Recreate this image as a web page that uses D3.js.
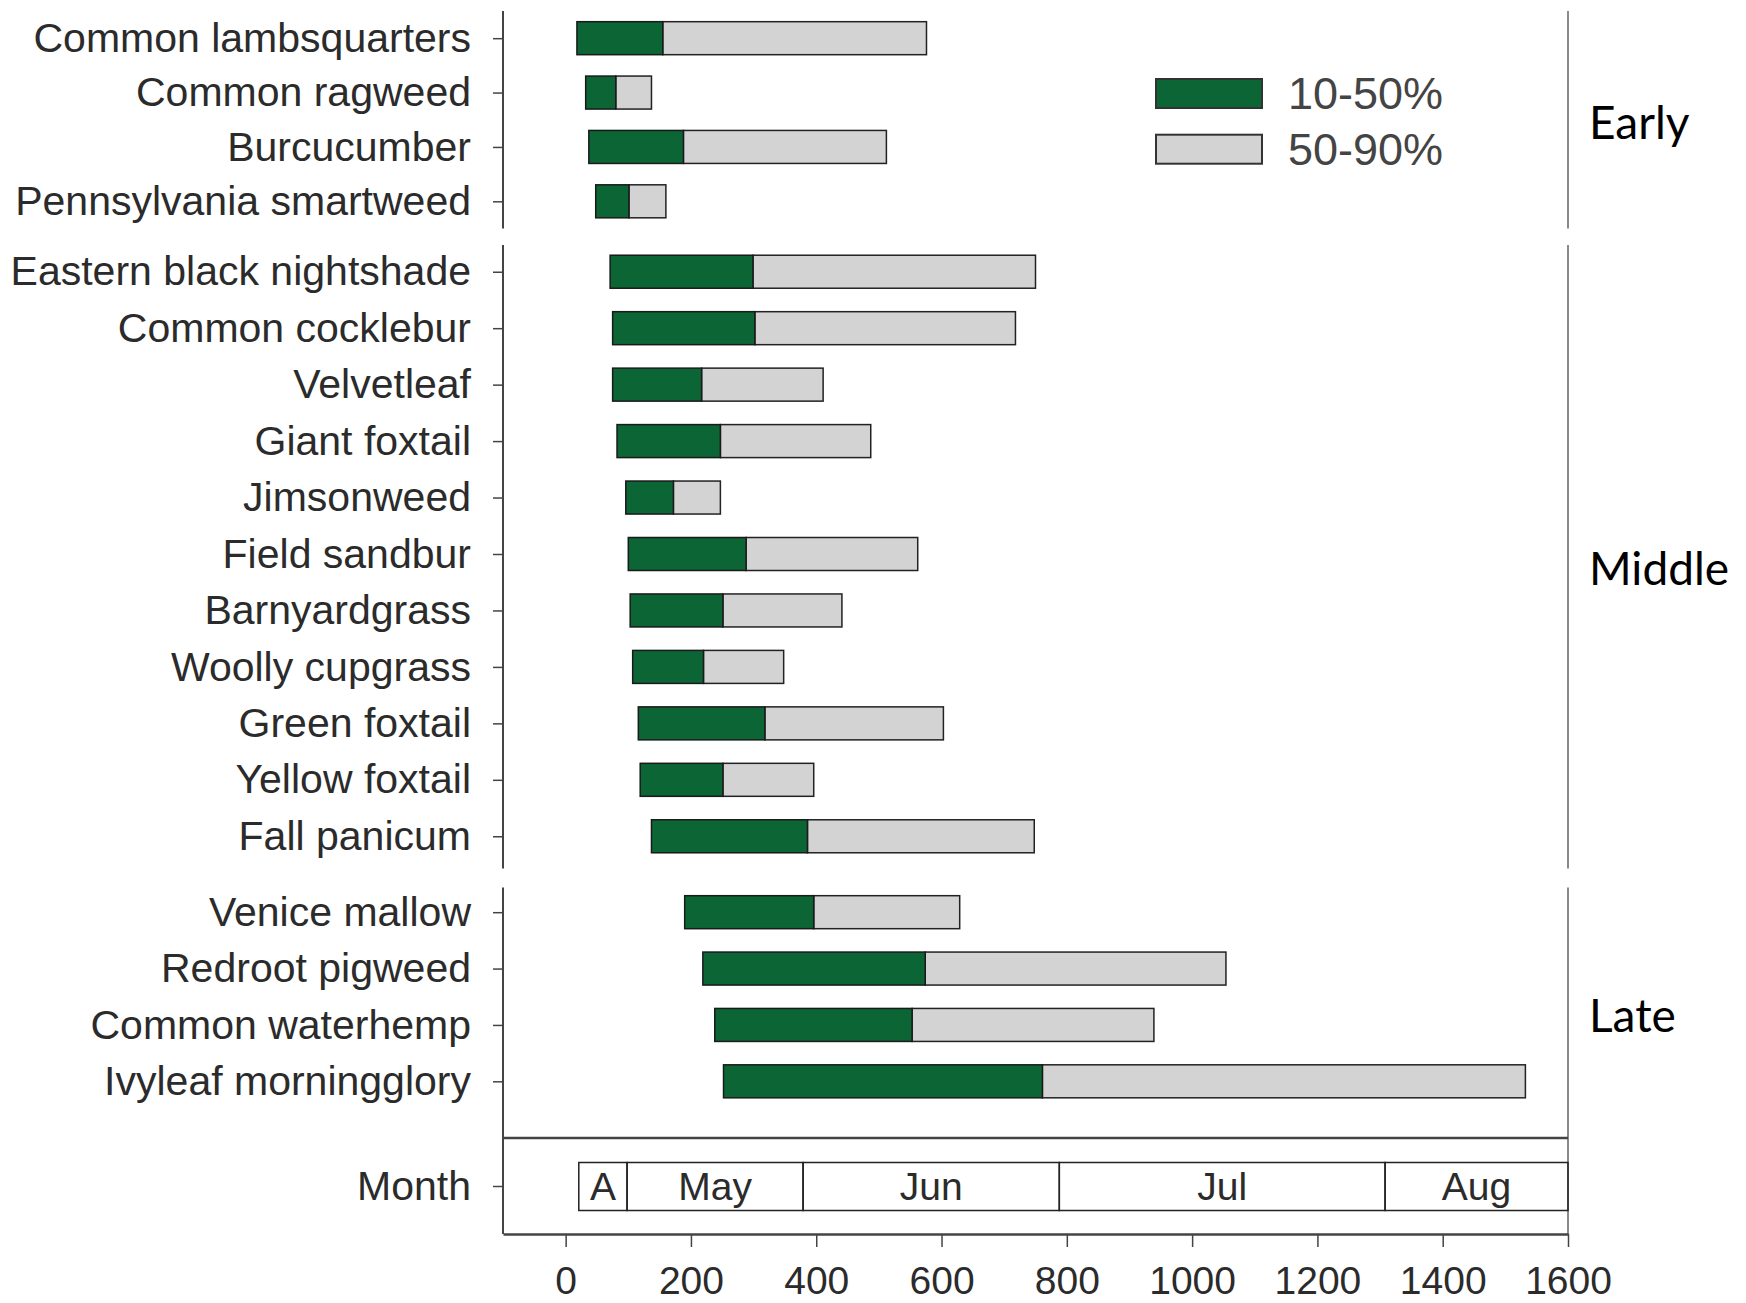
<!DOCTYPE html>
<html>
<head>
<meta charset="utf-8">
<script src="https://cdn.jsdelivr.net/npm/d3@7/dist/d3.min.js"></script>
<style>
  body { margin: 0; background: #fff; }
</style>
</head>
<body>
<svg id="chart"></svg>
<script>
// weeds, top to bottom, with their emergence group
const weeds = [
  "Common lambsquarters", "Common ragweed", "Burcucumber", "Pennsylvania smartweed",
  "Eastern black nightshade", "Common cocklebur", "Velvetleaf", "Giant foxtail",
  "Jimsonweed", "Field sandbur", "Barnyardgrass", "Woolly cupgrass",
  "Green foxtail", "Yellow foxtail", "Fall panicum",
  "Venice mallow", "Redroot pigweed", "Common waterhemp", "Ivyleaf morningglory"
];
const groupOf = [
  "Early", "Early", "Early", "Early",
  "Middle", "Middle", "Middle", "Middle", "Middle", "Middle", "Middle", "Middle", "Middle", "Middle", "Middle",
  "Late", "Late", "Late", "Late"
];
const groups = ["Early", "Middle", "Late"];

// growing degree days: 10% emergence, 50% emergence, 90% emergence
const gdd10 = [18, 32, 37, 48, 71, 75, 75, 82, 96, 100, 103, 107, 116, 119, 137, 190, 219, 238, 252];
const gdd50 = [155, 80, 188, 101, 299, 302, 217, 247, 172, 288, 251, 220, 318, 251, 386, 396, 574, 553, 761];
const gdd90 = [576, 137, 512, 160, 750, 718, 411, 487, 247, 562, 441, 348, 603, 396, 748, 629, 1054, 939, 1532];

// month strip
const months = ["A", "May", "Jun", "Jul", "Aug"];
const monthStart = [21, 98, 379, 788, 1308];
const monthEnd = 1600;

const xTicks = [0, 200, 400, 600, 800, 1000, 1200, 1400, 1600];
const legendLabels = ["10-50%", "50-90%"];

const W = 1746, H = 1303;
const green = "#0b6535", grey = "#d3d3d3", ink = "#2b2b2b";
const labelFont = "'Liberation Sans', Arial, sans-serif";

const svg = d3.select("#chart").attr("width", W).attr("height", H)
  .style("font-family", labelFont);

const x = d3.scaleLinear().domain([-100, 1600]).range([503, 1568]);
const x0 = x(-100), x1 = x(1600);

// panel layout: range for the point scale, and extent of the frame lines
const panelRange = { Early: [11, 228.5], Middle: [243.5, 864.5], Late: [884, 1109.5] };
const panelLine = { Early: [11, 228.5], Middle: [245, 868.5], Late: [887.5, 1234] };
const groupLabelY = { Early: 121, Middle: 567, Late: 1014 };
const barH = 33;

groups.forEach(g => {
  const names = weeds.filter((w, i) => groupOf[i] === g);
  const y = d3.scalePoint().domain(names).range(panelRange[g]).padding(0.5);

  const ax = svg.append("g")
    .attr("transform", `translate(${x0},0)`)
    .call(d3.axisLeft(y).tickSize(10).tickSizeOuter(0).tickPadding(22));
  ax.select(".domain").remove();
  ax.selectAll(".tick line").attr("stroke", "#444").attr("stroke-width", 1.5);
  ax.selectAll(".tick text").attr("fill", ink).style("font-size", "41px")
    .style("font-family", labelFont);

  // left and right frame lines
  svg.append("line").attr("x1", x0).attr("x2", x0)
    .attr("y1", panelLine[g][0]).attr("y2", panelLine[g][1])
    .attr("stroke", "#444").attr("stroke-width", 2);
  svg.append("line").attr("x1", x1).attr("x2", x1)
    .attr("y1", panelLine[g][0]).attr("y2", panelLine[g][1])
    .attr("stroke", "#8a8a8a").attr("stroke-width", 2);

  const rows = weeds.map((w, i) => ({ w, a: gdd10[i], b: gdd50[i], c: gdd90[i], g: groupOf[i] }))
    .filter(d => d.g === g);

  const bars = svg.append("g");
  bars.selectAll("rect.late").data(rows).join("rect")
    .attr("x", d => x(d.b)).attr("width", d => x(d.c) - x(d.b))
    .attr("y", d => y(d.w) - barH / 2).attr("height", barH)
    .attr("fill", grey).attr("stroke", "#222").attr("stroke-width", 1.5);
  bars.selectAll("rect.early").data(rows).join("rect")
    .attr("x", d => x(d.a)).attr("width", d => x(d.b) - x(d.a))
    .attr("y", d => y(d.w) - barH / 2).attr("height", barH)
    .attr("fill", green).attr("stroke", "#1a1a1a").attr("stroke-width", 1.5);

  svg.append("text").attr("x", 1589).attr("y", groupLabelY[g])
    .attr("dominant-baseline", "central")
    .style("font-family", "Lato, 'Open Sans', sans-serif").style("font-size", "46px")
    .attr("fill", "#000").text(g);
});

// month panel
const monthY = 1186;
svg.append("line").attr("x1", x0).attr("x2", x1).attr("y1", 1138).attr("y2", 1138)
  .attr("stroke", "#444").attr("stroke-width", 2.5);
const my = d3.scalePoint().domain(["Month"]).range([monthY, monthY]);
const mAx = svg.append("g").attr("transform", `translate(${x0},0)`)
  .call(d3.axisLeft(my).tickSize(10).tickSizeOuter(0).tickPadding(22));
mAx.select(".domain").remove();
mAx.selectAll(".tick line").attr("stroke", "#444").attr("stroke-width", 1.5);
mAx.selectAll(".tick text").attr("fill", ink).style("font-size", "41px");

const mRows = months.map((m, i) => ({ m, s: monthStart[i], e: i < months.length - 1 ? monthStart[i + 1] : monthEnd }));
svg.append("g").selectAll("rect").data(mRows).join("rect")
  .attr("x", d => x(d.s)).attr("width", d => x(d.e) - x(d.s))
  .attr("y", 1162.5).attr("height", 48)
  .attr("fill", "none").attr("stroke", "#222").attr("stroke-width", 1.5);
svg.append("g").selectAll("text").data(mRows).join("text")
  .attr("x", d => (x(d.s) + x(d.e)) / 2).attr("y", monthY + 14)
  .attr("text-anchor", "middle")
  .attr("fill", ink).style("font-size", "39px").text(d => d.m);

// bottom axis
const bx = svg.append("g").attr("transform", "translate(0,1234)")
  .call(d3.axisBottom(x).tickValues(xTicks).tickFormat(d3.format("d"))
    .tickSize(13).tickSizeOuter(0).tickPadding(19));
bx.select(".domain").attr("stroke", "#444").attr("stroke-width", 2.5);
bx.selectAll(".tick line").attr("stroke", "#444").attr("stroke-width", 1.5);
bx.selectAll(".tick text").attr("fill", ink).style("font-size", "39px")
  .style("font-family", labelFont);

// legend
const legend = svg.append("g");
const legendFill = [green, grey];
legendLabels.forEach((l, i) => {
  legend.append("rect").attr("x", 1156).attr("y", 79 + i * 55.7).attr("width", 106).attr("height", 29)
    .attr("fill", legendFill[i]).attr("stroke", "#333").attr("stroke-width", 2);
  legend.append("text").attr("x", 1288).attr("y", 93.5 + i * 55.7)
    .attr("dominant-baseline", "central").attr("fill", "#444")
    .style("font-size", "45px").text(l);
});
</script>
</body>
</html>
